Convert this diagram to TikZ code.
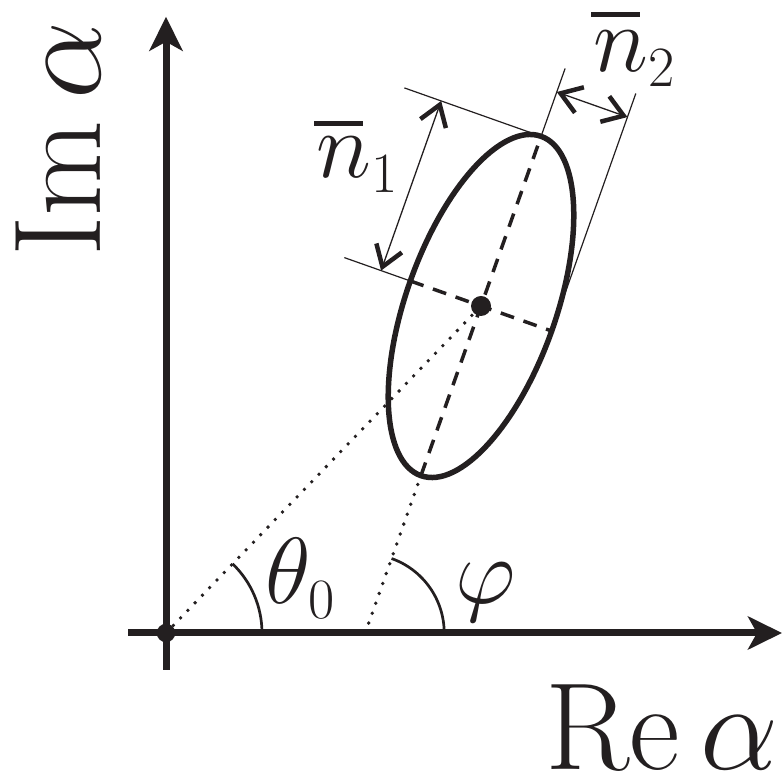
\RequirePackage{fix-cm}
\documentclass[tikz,border=0pt]{standalone}
\usetikzlibrary{arrows.meta,calc}
\DeclareMathSizes{94}{94}{57}{47}
\DeclareMathSizes{124}{124}{87}{62}
\definecolor{ink}{RGB}{35,31,32}
\newcommand\barmark[1]{\rlap{\hspace{-2pt}\raisebox{#1}{\color{ink}\rule{49pt}{5pt}}}}
\tikzset{
  axisline/.style={line width=7pt, -{Stealth[length=34pt,width=33pt,inset=9pt]}},
  ellipseline/.style={line width=5.5pt},
  dashedaxis/.style={line width=3.5pt, dash pattern=on 14pt off 10pt},
  dottedline/.style={line width=3.8pt, line cap=round, dash pattern=on 0pt off 10.5pt},
  thinline/.style={line width=1.2pt},
  barb/.tip={Straight Barb[length=20pt,width=27pt,line width=4.5pt]},
  dimarrow/.style={line width=1.3pt, barb-barb},
  anglearc/.style={line width=2.7pt},
  dotnode/.style={circle, fill=ink, draw=none, inner sep=0pt, minimum size=#1},
  mathlabel/.style={font=\fontsize{94}{100}\selectfont, inner sep=0pt, text=ink},
  biglabel/.style={font=\fontsize{124}{130}\selectfont, inner sep=0pt, text=ink},
}
\begin{document}
\begin{tikzpicture}[x=1pt,y=1pt,draw=ink,fill=ink]
\useasboundingbox (0,0) rectangle (782,779);
% key points
\coordinate (O) at (166,146);
\coordinate (C) at (481,473);
\coordinate (P) at (365.2,146);
\coordinate (T) at ($(C)+(70.5:180pt)$);
\coordinate (Bv) at ($(C)+(250.5:180pt)$);
\coordinate (L) at ($(C)+(160.5:75pt)$);
\coordinate (R) at ($(C)+(-19.5:75pt)$);
\coordinate (xs) at (128,146);
\coordinate (xe) at (782,146);
\coordinate (ys) at (166,109);
\coordinate (ye) at (166,762.3);
% axes
\draw[axisline] (xs) -- (xe);
\draw[axisline] (ys) -- (ye);
% dotted guides
\draw[dottedline] (O) -- (C);
\draw[dottedline] (P) -- (Bv);
% angle arcs
\draw[anglearc] ($(O)+(96pt,0)$) arc[start angle=0,end angle=46.07,radius=96pt];
\draw[anglearc] ($(P)+(79pt,0)$) arc[start angle=0,end angle=70.5,radius=79pt];
% ellipse and its axes
\draw[ellipseline, shift={(C)}, rotate=70.5] (0,0) ellipse [x radius=180, y radius=75];
\draw[dashedaxis] (Bv) -- (T);
\draw[dashedaxis] (L) -- (R);
% n1 dimension
\coordinate (e1) at ($(T)+(160.5:145pt)$);
\coordinate (e2) at ($(C)+(160.5:145pt)$);
\coordinate (a1) at ($(T)+(160.5:106pt)$);
\coordinate (a2) at ($(C)+(160.5:106pt)$);
\draw[thinline] (T) -- (e1);
\draw[thinline] (L) -- (e2);
\draw[dimarrow] (a2) -- (a1);
% n2 dimension
\coordinate (f1) at ($(C)+(70.5:252pt)$);
\coordinate (f2) at ($(R)+(70.5:252pt)$);
\coordinate (b1) at ($(C)+(70.5:227pt)$);
\coordinate (b2) at ($(R)+(70.5:227pt)$);
\draw[thinline] (T) -- (f1);
\draw[thinline] (R) -- (f2);
\draw[dimarrow] (b1) -- (b2);
% dots
\node[dotnode=18.5pt] (Odot) at (O) {};
\node[dotnode=20pt] (Cdot) at (C) {};
% labels
\node[mathlabel, anchor=base west] (n1) at (316,601) {\barmark{52pt}$n_1$};
\node[mathlabel, anchor=base west] (n2) at (593,707) {\barmark{55pt}$n_2$};
\node[mathlabel, anchor=base west] (th) at (265,175) {$\theta_0$};
\node[mathlabel, anchor=base west] (ph) at (455,175) {$\varphi$};
\node[biglabel, anchor=base west] (re) at (545,9) {$\mathrm{Re}\,\alpha$};
\node[biglabel, anchor=base west, rotate=90] (im) at (100,522) {$\mathrm{Im}\,\alpha$};
\end{tikzpicture}
\end{document}
